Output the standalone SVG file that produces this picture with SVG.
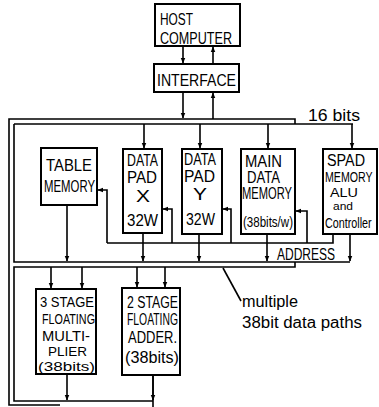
<svg xmlns="http://www.w3.org/2000/svg" width="379" height="407" viewBox="0 0 379 407">
<style>
.b{fill:#fff;stroke:#000;stroke-width:2}
.l{fill:none;stroke:#000;stroke-width:1.6}
.a{fill:none;stroke:#000;stroke-width:1.6;marker-end:url(#ah)}
text{font-family:"Liberation Sans",Arial,sans-serif;fill:#000;font-size:16px}
.s{font-size:14px}
.xs{font-size:11px}
.m{font-size:13px}
</style>
<defs>
<marker id="ah" viewBox="0 0 10 10" refX="9" refY="5" markerWidth="6" markerHeight="6" orient="auto" markerUnits="userSpaceOnUse">
<path d="M0,1 L10,5 L0,9 z" fill="#000"/>
</marker>
</defs>
<g id="connectors">
<path class="a" d="M183,46 V63"/>
<path class="a" d="M213,64 V47"/>
<path class="a" d="M183,92 V118"/>
<path class="a" d="M213,119 V93"/>
<path class="l" d="M295,124 V119 H9 V405 H60"/>
<path class="l" d="M14,124 H353"/>
<path class="l" d="M14,124 V262 H350"/>
<path class="a" d="M144,124 V148"/>
<path class="a" d="M200,124 V148"/>
<path class="a" d="M268,124 V148"/>
<path class="a" d="M352,124 V148"/>
<path class="l" d="M333,234 V243 H107"/>
<path class="a" d="M107,243 V190 H98"/>
<path class="a" d="M172,243 V209 H163"/>
<path class="a" d="M231,243 V209 H223"/>
<path class="a" d="M307,243 V211 H296"/>
<path class="a" d="M67,205 V261"/>
<path class="a" d="M143,233 V261"/>
<path class="a" d="M199,234 V261"/>
<path class="a" d="M267,234 V261"/>
<path class="a" d="M350,234 V261"/>
<path class="l" d="M295,262 V267 H14 V401 H153"/>
<path class="a" d="M51,267 V288"/>
<path class="a" d="M82,267 V288"/>
<path class="a" d="M137,267 V287"/>
<path class="a" d="M165,267 V287"/>
<path class="a" d="M67,374 V400"/>
<path class="l" d="M153,375 V407"/>
<path class="a" d="M153,375 V400"/>
<path class="l" d="M223,268 L241,301"/>
</g>
<g id="host"><rect class="b" x="155" y="4" width="85" height="42"/>
<text x="160" y="25" textLength="33" lengthAdjust="spacingAndGlyphs">HOST</text>
<text x="160" y="44" textLength="72" lengthAdjust="spacingAndGlyphs">COMPUTER</text></g>
<g id="interface"><rect class="b" x="154" y="64" width="85" height="28"/>
<text x="157" y="86" textLength="79" lengthAdjust="spacingAndGlyphs">INTERFACE</text></g>
<g id="table"><rect class="b" x="41" y="148" width="56" height="57"/>
<text x="46" y="171" textLength="46" lengthAdjust="spacingAndGlyphs">TABLE</text>
<text x="44" y="192" textLength="51" lengthAdjust="spacingAndGlyphs">MEMORY</text></g>
<g id="padx"><rect class="b" x="123" y="149" width="39" height="84"/>
<text x="127" y="166" textLength="31" lengthAdjust="spacingAndGlyphs">DATA</text>
<text x="127" y="183" textLength="30" lengthAdjust="spacingAndGlyphs">PAD</text>
<text x="136" y="202" textLength="14" lengthAdjust="spacingAndGlyphs">X</text>
<text x="127" y="226" textLength="31" lengthAdjust="spacingAndGlyphs">32W</text></g>
<g id="pady"><rect class="b" x="182" y="149" width="40" height="85"/>
<text x="184" y="165" textLength="32" lengthAdjust="spacingAndGlyphs">DATA</text>
<text x="184" y="182" textLength="31" lengthAdjust="spacingAndGlyphs">PAD</text>
<text x="193" y="200" textLength="14" lengthAdjust="spacingAndGlyphs">Y</text>
<text x="186" y="225" textLength="29" lengthAdjust="spacingAndGlyphs">32W</text></g>
<g id="main"><rect class="b" x="241" y="149" width="54" height="85"/>
<text x="245" y="167" textLength="37" lengthAdjust="spacingAndGlyphs">MAIN</text>
<text x="247" y="183" textLength="33" lengthAdjust="spacingAndGlyphs">DATA</text>
<text x="242" y="199" textLength="50" lengthAdjust="spacingAndGlyphs">MEMORY</text>
<text x="243" y="227" class="s" textLength="50" lengthAdjust="spacingAndGlyphs">(38bits/w)</text></g>
<g id="spad"><rect class="b" x="323" y="149" width="54" height="85"/>
<text x="327" y="166" textLength="38" lengthAdjust="spacingAndGlyphs">SPAD</text>
<text class="s" transform="translate(325,182) scale(0.76,1)">MEMORY</text>
<text x="330" y="197" class="m" textLength="28" lengthAdjust="spacingAndGlyphs">ALU</text>
<text x="333" y="210" class="xs" textLength="20" lengthAdjust="spacingAndGlyphs">and</text>
<text class="s" transform="translate(325,228) scale(0.77,1)">Controller</text></g>
<g id="mult"><rect class="b" x="36" y="289" width="60" height="85"/>
<text x="40" y="307" class="s" textLength="54" lengthAdjust="spacingAndGlyphs">3 STAGE</text>
<text x="42" y="324" class="s" textLength="53" lengthAdjust="spacingAndGlyphs">FLOATING</text>
<text x="42" y="341" class="s" textLength="48" lengthAdjust="spacingAndGlyphs">MULTI-</text>
<text x="48" y="356" class="m" textLength="39" lengthAdjust="spacingAndGlyphs">PLIER</text>
<text x="38" y="371" class="m" textLength="57" lengthAdjust="spacingAndGlyphs">(38bits)</text></g>
<g id="adder"><rect class="b" x="122" y="288" width="58" height="87"/>
<text x="127" y="308" textLength="51" lengthAdjust="spacingAndGlyphs">2 STAGE</text>
<text x="127" y="325" textLength="51" lengthAdjust="spacingAndGlyphs">FLOATING</text>
<text x="128" y="343" textLength="49" lengthAdjust="spacingAndGlyphs">ADDER.</text>
<text x="125" y="363" textLength="54" lengthAdjust="spacingAndGlyphs">(38bits)</text></g>
<g id="labels">
<text x="308" y="121" textLength="52" lengthAdjust="spacingAndGlyphs">16 bits</text>
<text x="277" y="260" textLength="58" lengthAdjust="spacingAndGlyphs">ADDRESS</text>
<text x="242" y="307" textLength="56" lengthAdjust="spacingAndGlyphs">multiple</text>
<text x="242" y="328" textLength="120" lengthAdjust="spacingAndGlyphs">38bit data paths</text>
</g>
</svg>
